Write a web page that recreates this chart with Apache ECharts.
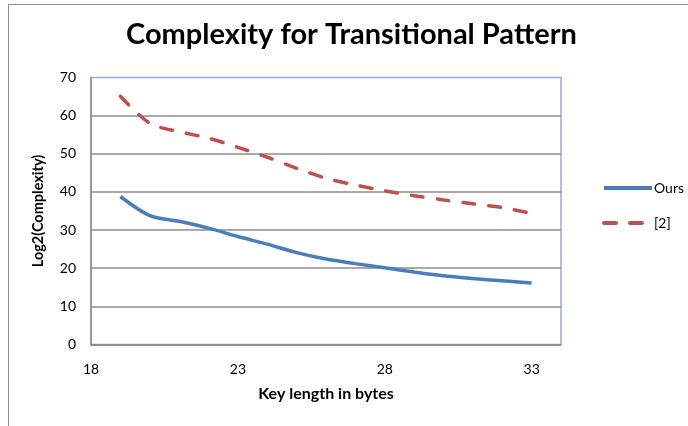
<!DOCTYPE html>
<html><head><meta charset="utf-8">
<script src="https://cdn.jsdelivr.net/npm/echarts@6/dist/echarts.min.js"></script>
<style>html,body{margin:0;padding:0;background:#fff}#c{width:688px;height:426px}</style>
</head><body><div id="c"></div>
<script>
var keyLengths = [19,20,21,22,23,24,25,26,27,28,29,30,31,32,33];
var oursValues = [38.8,33.8,32.3,30.5,28.3,26.3,24.1,22.4,21.2,20.1,19.0,18.0,17.3,16.7,16.1];
var refValues  = [65.1,58.0,55.8,54.1,51.7,49.1,46.2,43.6,41.8,40.3,39.0,37.9,36.9,35.9,34.4];
var seriesNames = ['Ours','[2]'];
var titleText = 'Complexity for Transitional Pattern';
var xName = 'Key length in bytes';
var yName = 'Log2(Complexity)';

function pairs(xs, ys){ return xs.map(function(x,i){return [x, ys[i]];}); }
var FONT = 'Lato';
var chart = echarts.init(document.getElementById('c'), null, {renderer:'canvas'});
chart.setOption({
  animation:false,
  backgroundColor:'#fff',
  title:{text:titleText, left:126, top:20, padding:0,
    textStyle:{fontFamily:FONT, fontWeight:'bold', fontSize:29, color:'#000'}},
  graphic:[{type:'rect', shape:{x:8.5,y:4.5,width:800,height:600},
    style:{fill:'none', stroke:'#8c8c8c', lineWidth:1}, silent:true}],
  legend:{orient:'vertical', left:597, top:176, itemWidth:48, itemHeight:14, itemGap:21,
    itemStyle:{opacity:0}, lineStyle:{width:4},
    textStyle:{fontFamily:FONT, fontSize:14, color:'#000', padding:[0,0,0,-3]},
    data:seriesNames},
  grid:{left:91, right:127, top:77.5, bottom:81.5, show:true, borderColor:'#8eaadb', borderWidth:1.5},
  xAxis:{type:'value', min:18, max:34, interval:5,
    name:xName, nameLocation:'middle', nameGap:41,
    nameTextStyle:{fontFamily:FONT, fontWeight:'bold', fontSize:16, color:'#000'},
    axisLine:{lineStyle:{color:'#8c8c8c', width:1.5}},
    axisTick:{show:false}, splitLine:{show:false},
    axisLabel:{fontFamily:FONT, fontSize:14, color:'#000', margin:18, showMaxLabel:false}},
  yAxis:{type:'value', min:0, max:70, interval:10,
    name:yName, nameLocation:'middle', nameGap:45, nameRotate:90,
    nameTextStyle:{fontFamily:FONT, fontWeight:'bold', fontSize:14.5, color:'#000'},
    axisLine:{show:true, lineStyle:{color:'#8c8c8c', width:1.5}},
    axisTick:{show:false},
    splitLine:{show:true, showMaxLine:false, lineStyle:{color:'#8c8c8c', width:1.5}},
    axisLabel:{fontFamily:FONT, fontSize:14, color:'#000', margin:15}},
  series:[
    {name:seriesNames[0], type:'line', data:pairs(keyLengths, oursValues), smooth:0.3,
     symbol:'none', color:'#4a7ebb', lineStyle:{color:'#4a7ebb', width:3.5}},
    {name:seriesNames[1], type:'line', data:pairs(keyLengths, refValues), smooth:0.3,
     symbol:'none', color:'#c0504d', lineStyle:{color:'#c0504d', width:3.5, type:[12,14], cap:'round'}}
  ]
});
</script></body></html>
